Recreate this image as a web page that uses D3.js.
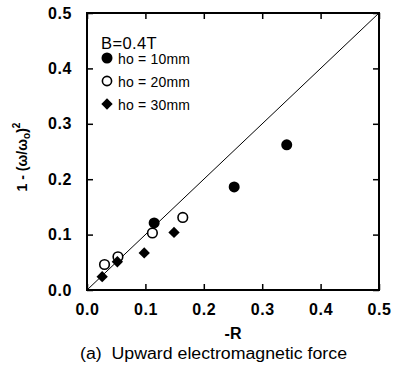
<!DOCTYPE html>
<html><head><meta charset="utf-8">
<script src="https://cdn.jsdelivr.net/npm/d3@7/dist/d3.min.js"></script>
<style>body{margin:0;background:#fff}svg{display:block}text{font-family:"Liberation Sans",Arial,sans-serif}</style>
</head><body><svg id="c" width="395" height="367"></svg>
<script>
const xTicks = [0.0, 0.1, 0.2, 0.3, 0.4, 0.5];
const yTicks = [0.0, 0.1, 0.2, 0.3, 0.4, 0.5];
const seriesNames = ["ho = 10mm", "ho = 20mm", "ho = 30mm"];
const h10 = [[0.115, 0.121], [0.252, 0.186], [0.342, 0.262]];
const h20 = [[0.030, 0.046], [0.053, 0.060], [0.112, 0.103], [0.164, 0.131]];
const h30 = [[0.026, 0.024], [0.052, 0.051], [0.098, 0.067], [0.149, 0.104]];
const refLine = [[0, 0], [0.5, 0.5]];

const svg = d3.select("#c");
const L = 87, R = 379, T = 13, B = 290;
const x = d3.scaleLinear().domain([0, 0.5]).range([L, R]);
const y = d3.scaleLinear().domain([0, 0.5]).range([B, T]);
const fmt = d3.format(".1f");

svg.append("rect").attr("x", L).attr("y", T).attr("width", R - L).attr("height", B - T)
  .attr("fill", "none").attr("stroke", "#000").attr("stroke-width", 2);

const tl = 6;
const ax = (g) => g.selectAll(".domain").remove();
const styleLbl = g => g.selectAll("text").attr("font-size", 16).attr("font-weight", "bold").attr("fill", "#000").attr("letter-spacing", 0.6);
svg.append("g").attr("transform", `translate(0,${B})`)
  .call(d3.axisBottom(x).tickValues(xTicks).tickFormat(fmt).tickSize(-tl).tickPadding(tl + 8))
  .call(ax).call(styleLbl)
  .call(g => g.selectAll("line").attr("stroke-width", 1.5));
svg.append("g").attr("transform", `translate(0,${T})`)
  .call(d3.axisTop(x).tickValues(xTicks).tickFormat("").tickSize(-tl))
  .call(ax).call(g => g.selectAll("line").attr("stroke-width", 1.5));
svg.append("g").attr("transform", `translate(${L},0)`)
  .call(d3.axisLeft(y).tickValues(yTicks).tickFormat(fmt).tickSize(-tl).tickPadding(tl + 9))
  .call(ax).call(styleLbl)
  .call(g => g.selectAll("line").attr("stroke-width", 1.5));
svg.append("g").attr("transform", `translate(${R},0)`)
  .call(d3.axisRight(y).tickValues(yTicks).tickFormat("").tickSize(-tl))
  .call(ax).call(g => g.selectAll("line").attr("stroke-width", 1.5));

svg.append("path").datum(refLine)
  .attr("d", d3.line().x(d => x(d[0])).y(d => y(d[1])))
  .attr("stroke", "#000").attr("stroke-width", 1).attr("fill", "none");

const r = 5.5;
const dia = d3.symbol().type(d3.symbolSquare).size(64);
svg.append("g").selectAll("circle").data(h20).join("circle")
  .attr("cx", d => x(d[0])).attr("cy", d => y(d[1])).attr("r", r - 0.7)
  .attr("fill", "#fff").attr("stroke", "#000").attr("stroke-width", 1.6);
svg.append("g").selectAll("path").data(h30).join("path")
  .attr("transform", d => `translate(${x(d[0])},${y(d[1])}) rotate(45)`)
  .attr("d", dia).attr("fill", "#000");
svg.append("g").selectAll("circle").data(h10).join("circle")
  .attr("cx", d => x(d[0])).attr("cy", d => y(d[1])).attr("r", r)
  .attr("fill", "#000");

// legend
svg.append("text").attr("x", 101).attr("y", 48.5).attr("font-size", 16.5).attr("letter-spacing", 0.4).text("B=0.4T");
const ly = [58, 81, 104];
svg.append("circle").attr("cx", 107).attr("cy", ly[0]).attr("r", 5.5).attr("fill", "#000");
svg.append("circle").attr("cx", 107).attr("cy", ly[1]).attr("r", 4.6).attr("fill", "#fff").attr("stroke", "#000").attr("stroke-width", 1.6);
svg.append("path").attr("transform", `translate(107,${ly[2]}) rotate(45)`)
  .attr("d", dia).attr("fill", "#000");
seriesNames.forEach((s, i) => {
  svg.append("text").attr("x", 118).attr("y", ly[i] + 6).attr("font-size", 14).attr("letter-spacing", 0.2).text(s);
});

svg.append("text").attr("x", x(0.25)).attr("y", 339).attr("text-anchor", "middle")
  .attr("font-size", 16).attr("font-weight", "bold").text("-R");
const yl = svg.append("text").attr("transform", "translate(27,157) rotate(-90)")
  .attr("text-anchor", "middle").attr("font-size", 14).attr("font-weight", "bold");
yl.append("tspan").text("1 - (ω/ω");
yl.append("tspan").attr("font-size", 10).attr("dy", 3).text("o");
yl.append("tspan").attr("dy", -3).text(")");
yl.append("tspan").attr("font-size", 10).attr("dy", -7).text("2");

svg.append("text").attr("x", 80).attr("y", 359)
  .attr("font-size", 16).attr("xml:space", "preserve")
  .attr("textLength", 267).attr("lengthAdjust", "spacingAndGlyphs")
  .text("(a)  Upward electromagnetic force");
</script></body></html>
